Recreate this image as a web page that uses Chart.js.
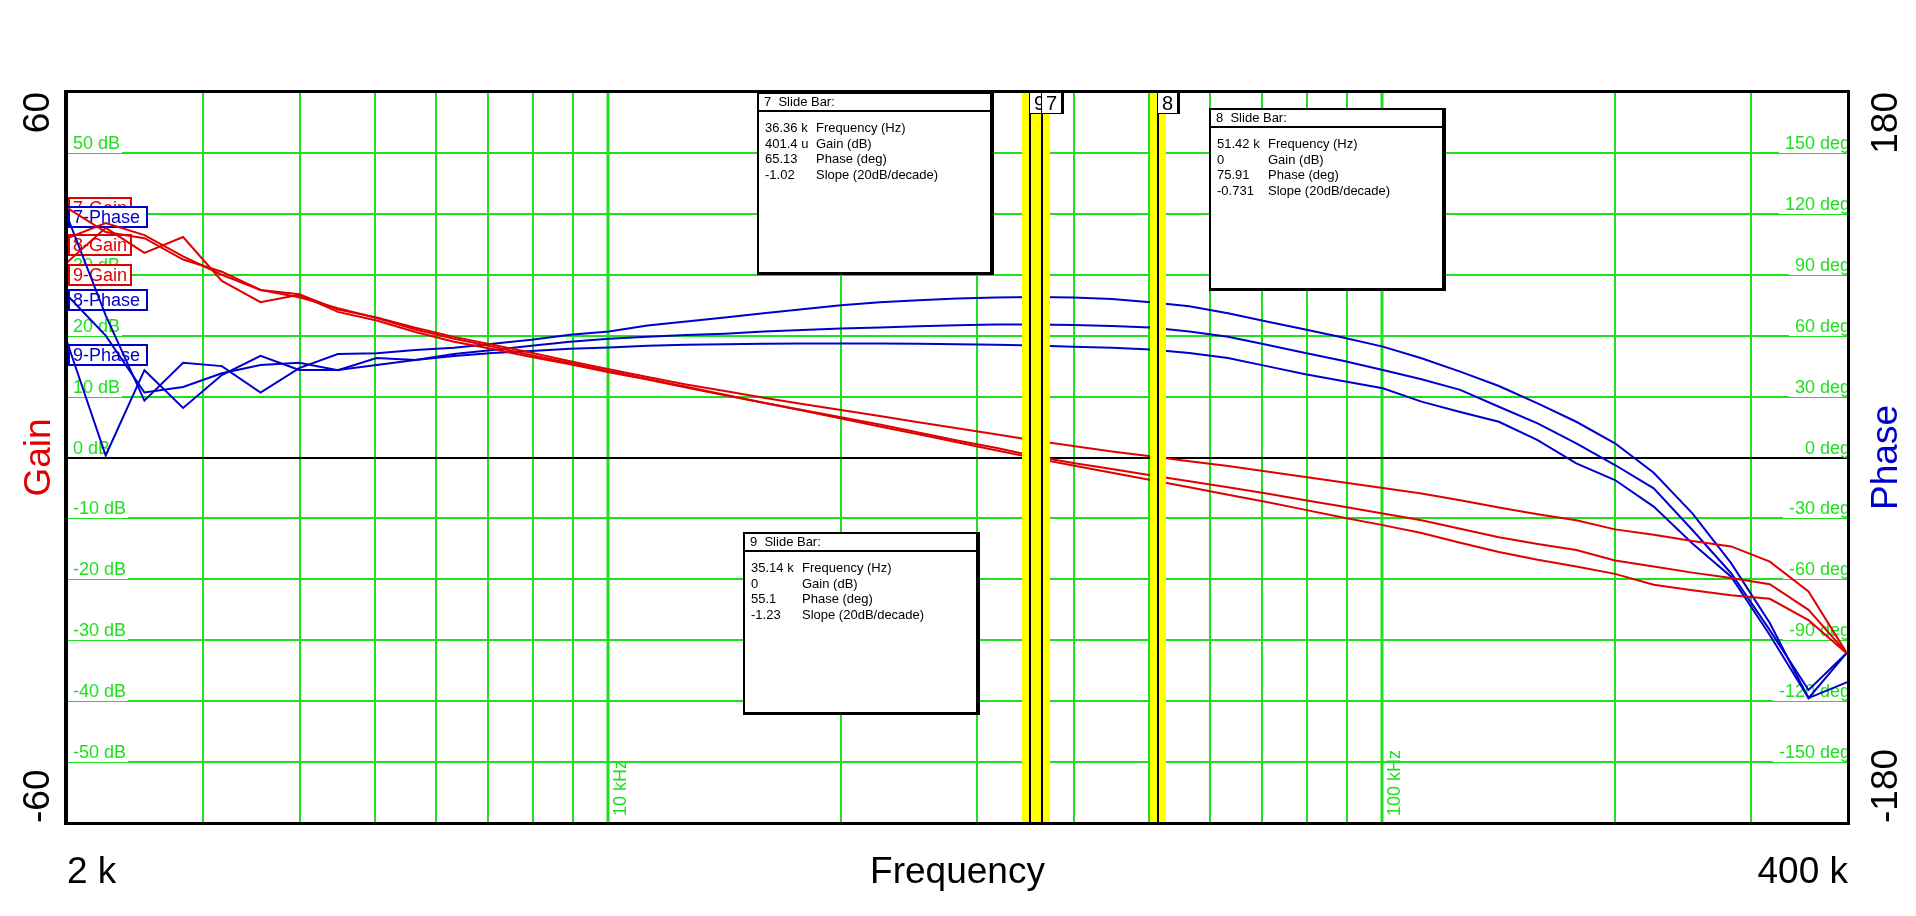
<!DOCTYPE html>
<html>
<head>
<meta charset="utf-8">
<script src="https://cdn.jsdelivr.net/npm/chart.js@4"></script>
<style>
  html, body { margin: 0; padding: 0; background: #fff; }
  canvas { display: block; }
</style>
</head>
<body>
<canvas id="bode" width="1916" height="916" style="width:1916px;height:916px"></canvas>
<script>
// sweep points, 20 per decade from 2 kHz
const freqs = [2000, 2244, 2518, 2825, 3170, 3557, 3991, 4477, 5024, 5637,
  6325, 7096, 7962, 8934, 10024, 11247, 12619, 14159, 15887, 17825,
  20000, 22440, 25179, 28251, 31698, 35566, 39905, 44774, 50238, 56368,
  63246, 70963, 79621, 89337, 100237, 112468, 126191, 141589, 158866, 178250,
  200000, 224404, 251785, 282508, 316979, 355656, 399052];

// gain (dB)
const gain7 = [41.0, 37.0, 36.0, 32.5, 30.5, 27.5, 26.3, 24.5, 22.9, 21.0,
  19.5, 18.2, 16.8, 15.5, 14.2, 12.9, 11.6, 10.3, 9.0, 7.8,
  6.6, 5.4, 4.1, 2.8, 1.6, 0.2, -0.9, -1.9, -2.9, -3.9,
  -4.9, -5.9, -7.0, -8.1, -9.2, -10.3, -11.7, -13.1, -14.2, -15.2,
  -16.9, -17.9, -18.9, -19.8, -20.8, -25.0, -32.2];
const gain8 = [36.0, 38.5, 36.5, 33.0, 30.0, 27.5, 26.8, 24.3, 23.0, 21.3,
  19.8, 18.5, 17.2, 15.8, 14.5, 13.2, 12.0, 10.9, 9.8, 8.8,
  7.8, 6.8, 5.8, 4.8, 3.8, 2.8, 1.9, 1.0, 0.2, -0.6,
  -1.4, -2.3, -3.2, -4.1, -5.0, -5.9, -7.0, -8.2, -9.3, -10.3,
  -11.8, -12.7, -13.7, -14.6, -17.1, -22.0, -32.2];
const gain9 = [32.0, 37.7, 33.6, 36.2, 29.0, 25.5, 26.7, 23.9, 22.5, 20.6,
  19.0, 17.8, 16.5, 15.3, 14.0, 12.8, 11.5, 10.2, 9.0, 7.7,
  6.4, 5.1, 3.8, 2.5, 1.2, -0.1, -1.3, -2.5, -3.7, -4.9,
  -6.1, -7.3, -8.6, -9.9, -11.1, -12.4, -14.0, -15.5, -16.8, -17.9,
  -19.1, -20.9, -21.8, -22.6, -23.2, -26.7, -32.2];

// phase (deg)
const phase7 = [80, 60, 32, 34.7, 41.5, 45.6, 46.7, 43, 49, 48,
  51, 53, 55, 57, 58.5, 59.5, 60.3, 61, 62, 62.8,
  63.5, 64, 64.6, 65.1, 65.5, 65.5, 65.3, 64.8, 64, 62,
  59.5, 55.5, 51.5, 47.5, 43.1, 38.5, 33.3, 25.0, 16.8, 7.0,
  -3.7, -15.2, -35.7, -57, -85, -114.5, -96];
const phase8 = [119, 70, 28, 46.6, 45, 32, 44, 51, 51.3, 53,
  54, 56, 58, 60.5, 62, 65, 67, 69, 71, 73,
  75, 76.5, 77.5, 78.3, 78.8, 79.1, 78.8, 78, 76.5, 74.5,
  71, 67, 63, 59, 54.6, 48.9, 42.3, 35.2, 26.7, 17.6,
  7.0, -7.5, -27.5, -52, -81.5, -118.5, -96];
const phase9 = [57, 1, 43, 24.4, 40.6, 50.1, 43.1, 43.1, 45.6, 48,
  50, 51.5, 52.5, 53.5, 54.2, 55, 55.5, 55.8, 56, 56.2,
  56.2, 56.2, 56, 55.8, 55.5, 55.1, 54.6, 54, 53.2, 51.5,
  49, 45, 41, 37.5, 34.1, 27.5, 22.4, 17.6, 8.6, -2.9,
  -11.1, -24.2, -42.3, -58.7, -87.4, -118.5, -110.6];

const gainTicks = [50, 40, 30, 20, 10, 0, -10, -20, -30, -40, -50];
const phaseTicks = [150, 120, 90, 60, 30, 0, -30, -60, -90, -120, -150];
const gridFreqs = [3000, 4000, 5000, 6000, 7000, 8000, 9000, 10000,
  20000, 30000, 40000, 50000, 60000, 70000, 80000, 90000, 100000, 200000, 300000];
const decadeFreqs = [10000, 100000];
const decadeLabels = ["10 kHz", "100 kHz"];

// slide bars (cursors)
const slideNames = ["9", "7", "8"];
const slideFreqs = [35140, 36360, 51420];
const slideBoxes = {
  "7": [["36.36 k", "Frequency (Hz)"], ["401.4 u", "Gain (dB)"], ["65.13", "Phase (deg)"], ["-1.02", "Slope (20dB/decade)"]],
  "8": [["51.42 k", "Frequency (Hz)"], ["0", "Gain (dB)"], ["75.91", "Phase (deg)"], ["-0.731", "Slope (20dB/decade)"]],
  "9": [["35.14 k", "Frequency (Hz)"], ["0", "Gain (dB)"], ["55.1", "Phase (deg)"], ["-1.23", "Slope (20dB/decade)"]]
};

const RED = "#e00000";
const BLUE = "#0000cc";
const GREEN = "#1ee01e";
const FONT = '"Liberation Sans", Arial, sans-serif';

const toPts = (ys) => freqs.map((f, i) => ({ x: f, y: ys[i] }));

function box(ctx, x, y, w, h, color, text, size) {
  ctx.fillStyle = "#fff";
  ctx.fillRect(x, y, w, h);
  ctx.strokeStyle = color;
  ctx.lineWidth = 2;
  ctx.strokeRect(x + 1, y + 1, w - 2, h - 2);
  ctx.fillStyle = color;
  ctx.font = size + "px " + FONT;
  ctx.textAlign = "left";
  ctx.textBaseline = "alphabetic";
  ctx.fillText(text, x + 5, y + h - 5);
}

function infoBox(ctx, left, top, name) {
  const w = 235, h = 181;
  ctx.fillStyle = "#fff";
  ctx.fillRect(left, top, w, h);
  ctx.fillStyle = "#000";
  ctx.fillRect(left + w - 2, top, 4, h + 2);
  ctx.fillRect(left, top + h - 1, w + 2, 3);
  ctx.fillRect(left, top, w, 2);
  ctx.fillRect(left, top, 2, h);
  ctx.fillRect(left, top + 18, w, 2);
  ctx.font = "13px " + FONT;
  ctx.textAlign = "left";
  ctx.textBaseline = "alphabetic";
  ctx.fillText(name + "  Slide Bar:", left + 7, top + 14);
  slideBoxes[name].forEach((r, i) => {
    ctx.fillText(r[0], left + 8, top + 40 + i * 15.5);
    ctx.fillText(r[1], left + 59, top + 40 + i * 15.5);
  });
}

function rotText(ctx, text, x, y, align, color) {
  ctx.save();
  ctx.translate(x, y);
  ctx.rotate(-Math.PI / 2);
  ctx.fillStyle = color;
  ctx.textAlign = align;
  ctx.fillText(text, 0, 0);
  ctx.restore();
}

const bodeDecor = {
  id: "bodeDecor",
  beforeDatasetsDraw(chart) {
    const { ctx, chartArea: a, scales } = chart;
    const xs = scales.x, yg = scales.yGain;
    ctx.save();
    // vertical grid
    gridFreqs.forEach(f => {
      const px = Math.round(xs.getPixelForValue(f));
      ctx.strokeStyle = GREEN;
      ctx.lineWidth = decadeFreqs.includes(f) ? 3 : 2;
      ctx.beginPath();
      ctx.moveTo(px, a.top);
      ctx.lineTo(px, a.bottom);
      ctx.stroke();
    });
    // horizontal grid with inner labels
    ctx.font = "18px " + FONT;
    ctx.textBaseline = "alphabetic";
    gainTicks.forEach((v, i) => {
      const py = Math.round(yg.getPixelForValue(v));
      const lt = v + " dB";
      const rt = phaseTicks[i] + " deg";
      const lw = ctx.measureText(lt).width;
      const rw = ctx.measureText(rt).width;
      if (v === 0) {
        ctx.strokeStyle = "#000";
        ctx.lineWidth = 2;
        ctx.beginPath();
        ctx.moveTo(a.left, py);
        ctx.lineTo(a.right, py);
        ctx.stroke();
      } else {
        ctx.strokeStyle = GREEN;
        ctx.lineWidth = 2;
        ctx.beginPath();
        ctx.moveTo(a.left + 8 + lw, py);
        ctx.lineTo(a.right - rw - 4, py);
        ctx.stroke();
        ctx.lineWidth = 1;
        ctx.beginPath();
        ctx.moveTo(a.left, py + 0.5);
        ctx.lineTo(a.right, py + 0.5);
        ctx.stroke();
      }
      ctx.fillStyle = GREEN;
      ctx.textAlign = "left";
      ctx.fillText(lt, a.left + 6, py - 4);
      ctx.textAlign = "right";
      ctx.fillText(rt, a.right + 2, py - 4);
    });
    // decade labels
    ctx.font = "18px " + FONT;
    decadeFreqs.forEach((f, i) => {
      const px = xs.getPixelForValue(f);
      rotText(ctx, decadeLabels[i], px + 18, a.bottom - 7, "left", GREEN);
    });
    // curve name tags
    box(ctx, 68, 197, 64, 22, RED, "7-Gain", 18);
    box(ctx, 68, 206, 80, 22, BLUE, "7-Phase", 18);
    box(ctx, 68, 234, 64, 22, RED, "8-Gain", 18);
    box(ctx, 68, 264, 64, 22, RED, "9-Gain", 18);
    box(ctx, 68, 289, 80, 22, BLUE, "8-Phase", 18);
    box(ctx, 68, 344, 80, 22, BLUE, "9-Phase", 18);
    ctx.restore();
  },
  afterDatasetsDraw(chart) {
    const { ctx, chartArea: a, scales } = chart;
    const xs = scales.x;
    ctx.save();
    // slide bars
    slideFreqs.forEach(f => {
      const px = Math.round(xs.getPixelForValue(f));
      ctx.fillStyle = "#ffff00";
      ctx.fillRect(px - 8, a.top, 16, a.bottom - a.top);
    });
    slideFreqs.forEach((f, i) => {
      const px = Math.round(xs.getPixelForValue(f));
      ctx.fillStyle = "#000";
      ctx.fillRect(px - 1, a.top, 2, a.bottom - a.top);
      ctx.fillStyle = "#fff";
      ctx.fillRect(px, a.top, 21, 22);
      ctx.fillStyle = "#000";
      ctx.fillRect(px, a.top + 21, 21, 1);
      ctx.fillRect(px + 19, a.top, 3, 22);
      ctx.font = "20px " + FONT;
      ctx.textAlign = "left";
      ctx.textBaseline = "alphabetic";
      ctx.fillText(slideNames[i], px + 4, a.top + 18);
    });
    // slide bar readouts
    infoBox(ctx, 757, 92, "7");
    infoBox(ctx, 1209, 108, "8");
    infoBox(ctx, 743, 532, "9");
    // frame
    ctx.fillStyle = "#000";
    ctx.fillRect(a.left - 2, a.top - 2, a.right - a.left + 4, 3);
    ctx.fillRect(a.left - 3, a.top - 2, 4, a.bottom - a.top + 4);
    ctx.fillRect(a.right - 1, a.top - 2, 3, a.bottom - a.top + 4);
    ctx.fillRect(a.left - 3, a.bottom - 1, a.right - a.left + 5, 3);
    // outer axis text
    ctx.font = "37px " + FONT;
    ctx.textBaseline = "alphabetic";
    rotText(ctx, "60", 49, a.top, "right", "#000");
    rotText(ctx, "-60", 49, a.bottom, "left", "#000");
    rotText(ctx, "Gain", 50, (a.top + a.bottom) / 2, "center", RED);
    rotText(ctx, "180", 1897, a.top, "right", "#000");
    rotText(ctx, "-180", 1897, a.bottom, "left", "#000");
    rotText(ctx, "Phase", 1897, (a.top + a.bottom) / 2, "center", BLUE);
    ctx.fillStyle = "#000";
    ctx.textAlign = "left";
    ctx.fillText("2 k", a.left, 883);
    ctx.textAlign = "center";
    ctx.fillText("Frequency", (a.left + a.right) / 2, 883);
    ctx.textAlign = "right";
    ctx.fillText("400 k", a.right, 883);
    ctx.restore();
  }
};

const lineDs = (label, ys, color, axis) => ({
  label: label,
  data: toPts(ys),
  borderColor: color,
  borderWidth: 2,
  pointRadius: 0,
  tension: 0,
  fill: false,
  yAxisID: axis
});

new Chart(document.getElementById("bode"), {
  type: "line",
  data: {
    datasets: [
      lineDs("7-Gain", gain7, RED, "yGain"),
      lineDs("8-Gain", gain8, RED, "yGain"),
      lineDs("9-Gain", gain9, RED, "yGain"),
      lineDs("7-Phase", phase7, BLUE, "yPhase"),
      lineDs("8-Phase", phase8, BLUE, "yPhase"),
      lineDs("9-Phase", phase9, BLUE, "yPhase")
    ]
  },
  options: {
    responsive: false,
    animation: false,
    layout: { padding: { left: 67, right: 68, top: 92, bottom: 93 } },
    plugins: {
      legend: { display: false },
      tooltip: { enabled: false }
    },
    scales: {
      x: { type: "logarithmic", min: 2000, max: 400000, display: false },
      yGain: { type: "linear", position: "left", min: -60, max: 60, display: false },
      yPhase: { type: "linear", position: "right", min: -180, max: 180, display: false }
    }
  },
  plugins: [bodeDecor]
});
</script>
</body>
</html>
